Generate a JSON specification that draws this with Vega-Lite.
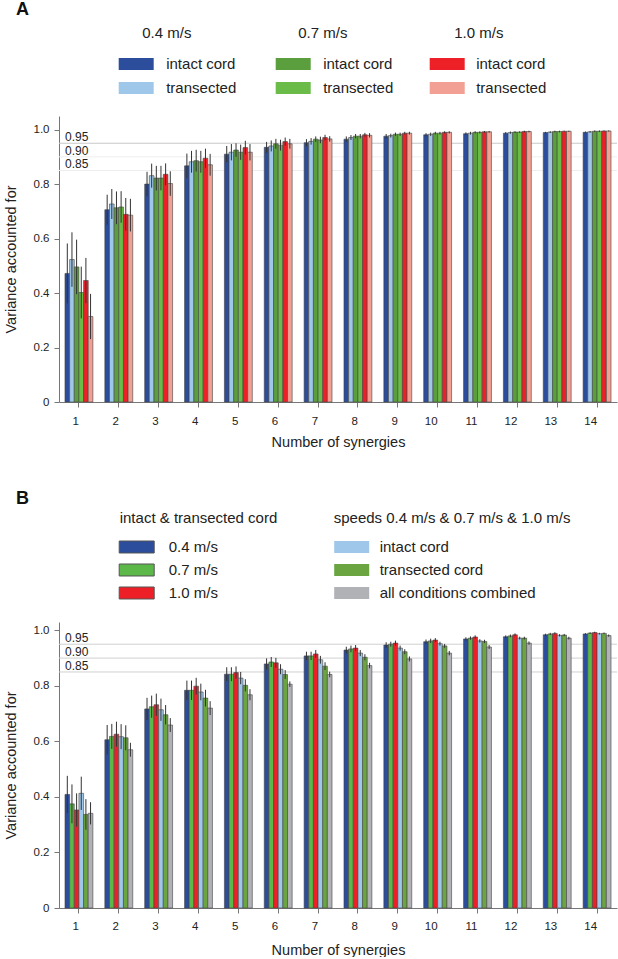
{
  "$schema": "https://vega.github.io/schema/vega-lite/v6.json",
  "background": "white",
  "padding": {"left": 3, "top": 1, "right": 0, "bottom": 0},
  "spacing": 41,
  "resolve": {"scale": {"xOffset": "independent", "x": "independent", "y": "independent"}},
  "config": {
    "view": {"stroke": null},
    "font": "Liberation Sans",
    "axis": {
      "domainColor": "#777", "tickColor": "#777", "labelColor": "#222", "titleColor": "#222",
      "labelFont": "Liberation Sans", "titleFont": "Liberation Sans",
      "labelFontSize": 11.5, "titleFontSize": 14.5, "titleFontWeight": "normal",
      "grid": false, "tickSize": 5
    },
    "legend": {
      "labelFont": "Liberation Sans", "titleFont": "Liberation Sans",
      "labelFontSize": 15, "titleFontSize": 15, "titleFontWeight": "normal",
      "labelColor": "#222", "titleColor": "#222", "titleLimit": 500, "labelLimit": 300,
      "symbolType": "M-2.5,-0.857H2.5V0.857H-2.5Z", "symbolSize": 196,
      "symbolStrokeColor": "#555", "symbolStrokeWidth": 1, "symbolOpacity": 1,
      "direction": "vertical", "orient": "none"
    },
    "title": {"font": "Liberation Sans", "fontSize": 18, "fontWeight": "bold", "color": "#111", "anchor": "start", "frame": "group", "dx": -43}
  },
  "datasets": {
    "refs": [
      {"m": 0.95, "lab": "0.95"},
      {"m": 0.90, "lab": "0.90"},
      {"m": 0.85, "lab": "0.85"}
    ],
    "varA": [
      {"n":1,"cond":"0.4 intact","cord":"intact cord","m":0.472,"lo":0.362,"hi":0.582},
      {"n":1,"cond":"0.4 transected","cord":"transected","m":0.523,"lo":0.423,"hi":0.623},
      {"n":1,"cond":"0.7 intact","cord":"intact cord","m":0.496,"lo":0.396,"hi":0.596},
      {"n":1,"cond":"0.7 transected","cord":"transected","m":0.402,"lo":0.307,"hi":0.497},
      {"n":1,"cond":"1.0 intact","cord":"intact cord","m":0.446,"lo":0.363,"hi":0.529},
      {"n":1,"cond":"1.0 transected","cord":"transected","m":0.314,"lo":0.231,"hi":0.397},
      {"n":2,"cond":"0.4 intact","cord":"intact cord","m":0.706,"lo":0.651,"hi":0.761},
      {"n":2,"cond":"0.4 transected","cord":"transected","m":0.727,"lo":0.672,"hi":0.782},
      {"n":2,"cond":"0.7 intact","cord":"intact cord","m":0.713,"lo":0.653,"hi":0.773},
      {"n":2,"cond":"0.7 transected","cord":"transected","m":0.716,"lo":0.658,"hi":0.774},
      {"n":2,"cond":"1.0 intact","cord":"intact cord","m":0.689,"lo":0.629,"hi":0.749},
      {"n":2,"cond":"1.0 transected","cord":"transected","m":0.686,"lo":0.626,"hi":0.746},
      {"n":3,"cond":"0.4 intact","cord":"intact cord","m":0.800,"lo":0.755,"hi":0.845},
      {"n":3,"cond":"0.4 transected","cord":"transected","m":0.831,"lo":0.787,"hi":0.875},
      {"n":3,"cond":"0.7 intact","cord":"intact cord","m":0.822,"lo":0.777,"hi":0.867},
      {"n":3,"cond":"0.7 transected","cord":"transected","m":0.822,"lo":0.777,"hi":0.867},
      {"n":3,"cond":"1.0 intact","cord":"intact cord","m":0.836,"lo":0.796,"hi":0.876},
      {"n":3,"cond":"1.0 transected","cord":"transected","m":0.802,"lo":0.757,"hi":0.847},
      {"n":4,"cond":"0.4 intact","cord":"intact cord","m":0.867,"lo":0.822,"hi":0.912},
      {"n":4,"cond":"0.4 transected","cord":"transected","m":0.882,"lo":0.842,"hi":0.922},
      {"n":4,"cond":"0.7 intact","cord":"intact cord","m":0.886,"lo":0.846,"hi":0.926},
      {"n":4,"cond":"0.7 transected","cord":"transected","m":0.882,"lo":0.842,"hi":0.922},
      {"n":4,"cond":"1.0 intact","cord":"intact cord","m":0.895,"lo":0.860,"hi":0.930},
      {"n":4,"cond":"1.0 transected","cord":"transected","m":0.871,"lo":0.831,"hi":0.911},
      {"n":5,"cond":"0.4 intact","cord":"intact cord","m":0.910,"lo":0.880,"hi":0.940},
      {"n":5,"cond":"0.4 transected","cord":"transected","m":0.917,"lo":0.887,"hi":0.947},
      {"n":5,"cond":"0.7 intact","cord":"intact cord","m":0.925,"lo":0.900,"hi":0.950},
      {"n":5,"cond":"0.7 transected","cord":"transected","m":0.917,"lo":0.889,"hi":0.945},
      {"n":5,"cond":"1.0 intact","cord":"intact cord","m":0.934,"lo":0.909,"hi":0.959},
      {"n":5,"cond":"1.0 transected","cord":"transected","m":0.917,"lo":0.887,"hi":0.947},
      {"n":6,"cond":"0.4 intact","cord":"intact cord","m":0.935,"lo":0.915,"hi":0.955},
      {"n":6,"cond":"0.4 transected","cord":"transected","m":0.940,"lo":0.920,"hi":0.960},
      {"n":6,"cond":"0.7 intact","cord":"intact cord","m":0.948,"lo":0.930,"hi":0.966},
      {"n":6,"cond":"0.7 transected","cord":"transected","m":0.943,"lo":0.923,"hi":0.963},
      {"n":6,"cond":"1.0 intact","cord":"intact cord","m":0.956,"lo":0.941,"hi":0.971},
      {"n":6,"cond":"1.0 transected","cord":"transected","m":0.948,"lo":0.930,"hi":0.966},
      {"n":7,"cond":"0.4 intact","cord":"intact cord","m":0.952,"lo":0.939,"hi":0.965},
      {"n":7,"cond":"0.4 transected","cord":"transected","m":0.957,"lo":0.945,"hi":0.969},
      {"n":7,"cond":"0.7 intact","cord":"intact cord","m":0.965,"lo":0.955,"hi":0.975},
      {"n":7,"cond":"0.7 transected","cord":"transected","m":0.962,"lo":0.950,"hi":0.974},
      {"n":7,"cond":"1.0 intact","cord":"intact cord","m":0.971,"lo":0.961,"hi":0.981},
      {"n":7,"cond":"1.0 transected","cord":"transected","m":0.966,"lo":0.956,"hi":0.976},
      {"n":8,"cond":"0.4 intact","cord":"intact cord","m":0.965,"lo":0.955,"hi":0.975},
      {"n":8,"cond":"0.4 transected","cord":"transected","m":0.971,"lo":0.962,"hi":0.980},
      {"n":8,"cond":"0.7 intact","cord":"intact cord","m":0.976,"lo":0.968,"hi":0.984},
      {"n":8,"cond":"0.7 transected","cord":"transected","m":0.976,"lo":0.968,"hi":0.984},
      {"n":8,"cond":"1.0 intact","cord":"intact cord","m":0.981,"lo":0.974,"hi":0.988},
      {"n":8,"cond":"1.0 transected","cord":"transected","m":0.979,"lo":0.971,"hi":0.987},
      {"n":9,"cond":"0.4 intact","cord":"intact cord","m":0.976,"lo":0.968,"hi":0.984},
      {"n":9,"cond":"0.4 transected","cord":"transected","m":0.978,"lo":0.971,"hi":0.985},
      {"n":9,"cond":"0.7 intact","cord":"intact cord","m":0.983,"lo":0.977,"hi":0.989},
      {"n":9,"cond":"0.7 transected","cord":"transected","m":0.983,"lo":0.977,"hi":0.989},
      {"n":9,"cond":"1.0 intact","cord":"intact cord","m":0.987,"lo":0.982,"hi":0.992},
      {"n":9,"cond":"1.0 transected","cord":"transected","m":0.987,"lo":0.982,"hi":0.992},
      {"n":10,"cond":"0.4 intact","cord":"intact cord","m":0.981,"lo":0.975,"hi":0.987},
      {"n":10,"cond":"0.4 transected","cord":"transected","m":0.983,"lo":0.977,"hi":0.989},
      {"n":10,"cond":"0.7 intact","cord":"intact cord","m":0.987,"lo":0.982,"hi":0.992},
      {"n":10,"cond":"0.7 transected","cord":"transected","m":0.987,"lo":0.982,"hi":0.992},
      {"n":10,"cond":"1.0 intact","cord":"intact cord","m":0.990,"lo":0.986,"hi":0.994},
      {"n":10,"cond":"1.0 transected","cord":"transected","m":0.990,"lo":0.986,"hi":0.994},
      {"n":11,"cond":"0.4 intact","cord":"intact cord","m":0.985,"lo":0.980,"hi":0.990},
      {"n":11,"cond":"0.4 transected","cord":"transected","m":0.987,"lo":0.982,"hi":0.992},
      {"n":11,"cond":"0.7 intact","cord":"intact cord","m":0.990,"lo":0.986,"hi":0.994},
      {"n":11,"cond":"0.7 transected","cord":"transected","m":0.990,"lo":0.986,"hi":0.994},
      {"n":11,"cond":"1.0 intact","cord":"intact cord","m":0.992,"lo":0.989,"hi":0.995},
      {"n":11,"cond":"1.0 transected","cord":"transected","m":0.992,"lo":0.989,"hi":0.995},
      {"n":12,"cond":"0.4 intact","cord":"intact cord","m":0.987,"lo":0.983,"hi":0.991},
      {"n":12,"cond":"0.4 transected","cord":"transected","m":0.989,"lo":0.985,"hi":0.993},
      {"n":12,"cond":"0.7 intact","cord":"intact cord","m":0.991,"lo":0.988,"hi":0.994},
      {"n":12,"cond":"0.7 transected","cord":"transected","m":0.991,"lo":0.988,"hi":0.994},
      {"n":12,"cond":"1.0 intact","cord":"intact cord","m":0.993,"lo":0.990,"hi":0.996},
      {"n":12,"cond":"1.0 transected","cord":"transected","m":0.993,"lo":0.990,"hi":0.996},
      {"n":13,"cond":"0.4 intact","cord":"intact cord","m":0.989,"lo":0.986,"hi":0.992},
      {"n":13,"cond":"0.4 transected","cord":"transected","m":0.991,"lo":0.988,"hi":0.994},
      {"n":13,"cond":"0.7 intact","cord":"intact cord","m":0.993,"lo":0.990,"hi":0.996},
      {"n":13,"cond":"0.7 transected","cord":"transected","m":0.993,"lo":0.990,"hi":0.996},
      {"n":13,"cond":"1.0 intact","cord":"intact cord","m":0.994,"lo":0.992,"hi":0.996},
      {"n":13,"cond":"1.0 transected","cord":"transected","m":0.994,"lo":0.992,"hi":0.996},
      {"n":14,"cond":"0.4 intact","cord":"intact cord","m":0.990,"lo":0.987,"hi":0.993},
      {"n":14,"cond":"0.4 transected","cord":"transected","m":0.992,"lo":0.989,"hi":0.995},
      {"n":14,"cond":"0.7 intact","cord":"intact cord","m":0.994,"lo":0.991,"hi":0.997},
      {"n":14,"cond":"0.7 transected","cord":"transected","m":0.994,"lo":0.991,"hi":0.997},
      {"n":14,"cond":"1.0 intact","cord":"intact cord","m":0.995,"lo":0.993,"hi":0.997},
      {"n":14,"cond":"1.0 transected","cord":"transected","m":0.995,"lo":0.993,"hi":0.997}
    ],
    "varB": [
      {"n":1,"grp":"speed","cond":"0.4 m/s","m":0.409,"lo":0.342,"hi":0.476},
      {"n":1,"grp":"speed","cond":"0.7 m/s","m":0.375,"lo":0.305,"hi":0.445},
      {"n":1,"grp":"speed","cond":"1.0 m/s","m":0.353,"lo":0.293,"hi":0.413},
      {"n":1,"grp":"cord","cond":"intact cord","m":0.413,"lo":0.353,"hi":0.473},
      {"n":1,"grp":"cord","cond":"transected cord","m":0.337,"lo":0.282,"hi":0.392},
      {"n":1,"grp":"cord","cond":"all conditions combined","m":0.341,"lo":0.301,"hi":0.381},
      {"n":2,"grp":"speed","cond":"0.4 m/s","m":0.606,"lo":0.553,"hi":0.659},
      {"n":2,"grp":"speed","cond":"0.7 m/s","m":0.618,"lo":0.573,"hi":0.663},
      {"n":2,"grp":"speed","cond":"1.0 m/s","m":0.626,"lo":0.581,"hi":0.671},
      {"n":2,"grp":"cord","cond":"intact cord","m":0.617,"lo":0.572,"hi":0.662},
      {"n":2,"grp":"cord","cond":"transected cord","m":0.613,"lo":0.568,"hi":0.658},
      {"n":2,"grp":"cord","cond":"all conditions combined","m":0.570,"lo":0.545,"hi":0.595},
      {"n":3,"grp":"speed","cond":"0.4 m/s","m":0.717,"lo":0.677,"hi":0.757},
      {"n":3,"grp":"speed","cond":"0.7 m/s","m":0.725,"lo":0.685,"hi":0.765},
      {"n":3,"grp":"speed","cond":"1.0 m/s","m":0.732,"lo":0.692,"hi":0.772},
      {"n":3,"grp":"cord","cond":"intact cord","m":0.714,"lo":0.674,"hi":0.754},
      {"n":3,"grp":"cord","cond":"transected cord","m":0.696,"lo":0.661,"hi":0.731},
      {"n":3,"grp":"cord","cond":"all conditions combined","m":0.659,"lo":0.634,"hi":0.684},
      {"n":4,"grp":"speed","cond":"0.4 m/s","m":0.784,"lo":0.749,"hi":0.819},
      {"n":4,"grp":"speed","cond":"0.7 m/s","m":0.784,"lo":0.749,"hi":0.819},
      {"n":4,"grp":"speed","cond":"1.0 m/s","m":0.799,"lo":0.769,"hi":0.829},
      {"n":4,"grp":"cord","cond":"intact cord","m":0.778,"lo":0.748,"hi":0.808},
      {"n":4,"grp":"cord","cond":"transected cord","m":0.756,"lo":0.726,"hi":0.786},
      {"n":4,"grp":"cord","cond":"all conditions combined","m":0.720,"lo":0.695,"hi":0.745},
      {"n":5,"grp":"speed","cond":"0.4 m/s","m":0.842,"lo":0.817,"hi":0.867},
      {"n":5,"grp":"speed","cond":"0.7 m/s","m":0.842,"lo":0.817,"hi":0.867},
      {"n":5,"grp":"speed","cond":"1.0 m/s","m":0.848,"lo":0.826,"hi":0.870},
      {"n":5,"grp":"cord","cond":"intact cord","m":0.828,"lo":0.806,"hi":0.850},
      {"n":5,"grp":"cord","cond":"transected cord","m":0.802,"lo":0.780,"hi":0.824},
      {"n":5,"grp":"cord","cond":"all conditions combined","m":0.768,"lo":0.748,"hi":0.788},
      {"n":6,"grp":"speed","cond":"0.4 m/s","m":0.879,"lo":0.859,"hi":0.899},
      {"n":6,"grp":"speed","cond":"0.7 m/s","m":0.886,"lo":0.868,"hi":0.904},
      {"n":6,"grp":"speed","cond":"1.0 m/s","m":0.883,"lo":0.865,"hi":0.901},
      {"n":6,"grp":"cord","cond":"intact cord","m":0.860,"lo":0.842,"hi":0.878},
      {"n":6,"grp":"cord","cond":"transected cord","m":0.841,"lo":0.825,"hi":0.857},
      {"n":6,"grp":"cord","cond":"all conditions combined","m":0.806,"lo":0.796,"hi":0.816},
      {"n":7,"grp":"speed","cond":"0.4 m/s","m":0.908,"lo":0.893,"hi":0.923},
      {"n":7,"grp":"speed","cond":"0.7 m/s","m":0.908,"lo":0.893,"hi":0.923},
      {"n":7,"grp":"speed","cond":"1.0 m/s","m":0.915,"lo":0.901,"hi":0.929},
      {"n":7,"grp":"cord","cond":"intact cord","m":0.894,"lo":0.880,"hi":0.908},
      {"n":7,"grp":"cord","cond":"transected cord","m":0.871,"lo":0.857,"hi":0.885},
      {"n":7,"grp":"cord","cond":"all conditions combined","m":0.841,"lo":0.831,"hi":0.851},
      {"n":8,"grp":"speed","cond":"0.4 m/s","m":0.929,"lo":0.917,"hi":0.941},
      {"n":8,"grp":"speed","cond":"0.7 m/s","m":0.933,"lo":0.921,"hi":0.945},
      {"n":8,"grp":"speed","cond":"1.0 m/s","m":0.936,"lo":0.925,"hi":0.947},
      {"n":8,"grp":"cord","cond":"intact cord","m":0.918,"lo":0.907,"hi":0.929},
      {"n":8,"grp":"cord","cond":"transected cord","m":0.903,"lo":0.892,"hi":0.914},
      {"n":8,"grp":"cord","cond":"all conditions combined","m":0.873,"lo":0.863,"hi":0.883},
      {"n":9,"grp":"speed","cond":"0.4 m/s","m":0.947,"lo":0.937,"hi":0.957},
      {"n":9,"grp":"speed","cond":"0.7 m/s","m":0.950,"lo":0.941,"hi":0.959},
      {"n":9,"grp":"speed","cond":"1.0 m/s","m":0.954,"lo":0.945,"hi":0.963},
      {"n":9,"grp":"cord","cond":"intact cord","m":0.936,"lo":0.927,"hi":0.945},
      {"n":9,"grp":"cord","cond":"transected cord","m":0.923,"lo":0.914,"hi":0.932},
      {"n":9,"grp":"cord","cond":"all conditions combined","m":0.897,"lo":0.888,"hi":0.906},
      {"n":10,"grp":"speed","cond":"0.4 m/s","m":0.959,"lo":0.951,"hi":0.967},
      {"n":10,"grp":"speed","cond":"0.7 m/s","m":0.962,"lo":0.954,"hi":0.970},
      {"n":10,"grp":"speed","cond":"1.0 m/s","m":0.965,"lo":0.958,"hi":0.972},
      {"n":10,"grp":"cord","cond":"intact cord","m":0.952,"lo":0.945,"hi":0.959},
      {"n":10,"grp":"cord","cond":"transected cord","m":0.944,"lo":0.937,"hi":0.951},
      {"n":10,"grp":"cord","cond":"all conditions combined","m":0.918,"lo":0.910,"hi":0.926},
      {"n":11,"grp":"speed","cond":"0.4 m/s","m":0.969,"lo":0.963,"hi":0.975},
      {"n":11,"grp":"speed","cond":"0.7 m/s","m":0.972,"lo":0.966,"hi":0.978},
      {"n":11,"grp":"speed","cond":"1.0 m/s","m":0.976,"lo":0.970,"hi":0.982},
      {"n":11,"grp":"cord","cond":"intact cord","m":0.962,"lo":0.956,"hi":0.968},
      {"n":11,"grp":"cord","cond":"transected cord","m":0.960,"lo":0.954,"hi":0.966},
      {"n":11,"grp":"cord","cond":"all conditions combined","m":0.940,"lo":0.933,"hi":0.947},
      {"n":12,"grp":"speed","cond":"0.4 m/s","m":0.977,"lo":0.972,"hi":0.982},
      {"n":12,"grp":"speed","cond":"0.7 m/s","m":0.980,"lo":0.975,"hi":0.985},
      {"n":12,"grp":"speed","cond":"1.0 m/s","m":0.984,"lo":0.979,"hi":0.989},
      {"n":12,"grp":"cord","cond":"intact cord","m":0.972,"lo":0.967,"hi":0.977},
      {"n":12,"grp":"cord","cond":"transected cord","m":0.972,"lo":0.967,"hi":0.977},
      {"n":12,"grp":"cord","cond":"all conditions combined","m":0.954,"lo":0.948,"hi":0.960},
      {"n":13,"grp":"speed","cond":"0.4 m/s","m":0.984,"lo":0.980,"hi":0.988},
      {"n":13,"grp":"speed","cond":"0.7 m/s","m":0.987,"lo":0.983,"hi":0.991},
      {"n":13,"grp":"speed","cond":"1.0 m/s","m":0.989,"lo":0.985,"hi":0.993},
      {"n":13,"grp":"cord","cond":"intact cord","m":0.982,"lo":0.978,"hi":0.986},
      {"n":13,"grp":"cord","cond":"transected cord","m":0.983,"lo":0.979,"hi":0.987},
      {"n":13,"grp":"cord","cond":"all conditions combined","m":0.972,"lo":0.967,"hi":0.977},
      {"n":14,"grp":"speed","cond":"0.4 m/s","m":0.987,"lo":0.984,"hi":0.990},
      {"n":14,"grp":"speed","cond":"0.7 m/s","m":0.990,"lo":0.987,"hi":0.993},
      {"n":14,"grp":"speed","cond":"1.0 m/s","m":0.992,"lo":0.989,"hi":0.995},
      {"n":14,"grp":"cord","cond":"intact cord","m":0.988,"lo":0.985,"hi":0.991},
      {"n":14,"grp":"cord","cond":"transected cord","m":0.989,"lo":0.986,"hi":0.992},
      {"n":14,"grp":"cord","cond":"all conditions combined","m":0.981,"lo":0.977,"hi":0.985}
    ]
  },
  "vconcat": [
    {
      "width": 558,
      "height": 286,
      "title": {"text": "A", "offset": 6.5},
      "resolve": {"scale": {"color": "independent"}},
      "layer": [
        {
          "data": {"name": "refs"},
          "transform": [{"filter": "datum.m > 0.92"}],
          "mark": {"type": "rule", "color": "#c8c8c8", "strokeWidth": 1},
          "encoding": {
            "y": {"field": "m", "type": "quantitative", "scale": {"domain": [0, 1.05], "nice": false}, "title": "Variance accounted for"}
          }
        },
        {
          "data": {"name": "refs"},
          "transform": [{"filter": "datum.m < 0.92"}],
          "mark": {"type": "rule", "color": "#eeeeee", "strokeWidth": 1},
          "encoding": {
            "y": {"field": "m", "type": "quantitative", "scale": {"domain": [0, 1.05], "nice": false}, "title": "Variance accounted for"}
          }
        },
        {
          "data": {"name": "refs"},
          "mark": {"type": "text", "align": "left", "baseline": "alphabetic", "dy": -2, "fontSize": 12, "font": "Liberation Sans", "color": "#222"},
          "encoding": {
            "x": {"datum": 1, "type": "ordinal", "bandPosition": 0, "title": "Number of synergies"},
            "y": {"field": "m", "type": "quantitative", "scale": {"domain": [0, 1.05], "nice": false}, "title": "Variance accounted for"},
            "text": {"field": "lab"}
          }
        },
        {
          "data": {"name": "varA"},
          "transform": [{"filter": "indexof(datum.cond, '0.4') === 0"}],
          "mark": {"type": "bar", "stroke": "#444", "strokeWidth": 0.6},
          "encoding": {
            "x": {"field": "n", "type": "ordinal", "scale": {"domain": [1,2,3,4,5,6,7,8,9,10,11,12,13,14], "paddingInner": 0.3, "paddingOuter": 0.15}, "axis": {"labelAngle": 0, "labelPadding": 14, "titlePadding": 9}, "title": "Number of synergies"},
            "xOffset": {"field": "cond", "type": "nominal", "scale": {"domain": ["0.4 intact", "0.4 transected", "0.7 intact", "0.7 transected", "1.0 intact", "1.0 transected"], "paddingInner": 0, "paddingOuter": 0}},
            "y": {"field": "m", "type": "quantitative", "scale": {"domain": [0, 1.05], "nice": false}, "axis": {"values": [0, 0.2, 0.4, 0.6, 0.8, 1.0], "labelExpr": "datum.value == 0 ? '0' : format(datum.value, '.1f')", "labelPadding": 5, "titlePadding": 15}, "title": "Variance accounted for"},
            "color": {
              "field": "cord", "type": "nominal",
              "scale": {"domain": ["intact cord", "transected"], "range": ["#2b4d9c", "#9fc7ea"]},
              "legend": {
                "title": "0.4 m/s", "legendX": 69.7, "legendY": -90.5, "labelOffset": 22.5, "rowPadding": 7, "titlePadding": 16,
                "encode": {
                  "title": {"update": {"dx": {"value": 13.5}}},
                  "symbols": {"update": {"fill": {"signal": "datum.value === 'intact cord' ? '#2b3990' : '#8fd9f8'"}}}
                }
              }
            }
          }
        },
        {
          "data": {"name": "varA"},
          "transform": [{"filter": "indexof(datum.cond, '0.7') === 0"}],
          "mark": {"type": "bar", "stroke": "#444", "strokeWidth": 0.6},
          "encoding": {
            "x": {"field": "n", "type": "ordinal", "title": "Number of synergies"},
            "xOffset": {"field": "cond", "type": "nominal", "scale": {"domain": ["0.4 intact", "0.4 transected", "0.7 intact", "0.7 transected", "1.0 intact", "1.0 transected"], "paddingInner": 0, "paddingOuter": 0}},
            "y": {"field": "m", "type": "quantitative", "scale": {"domain": [0, 1.05], "nice": false}, "title": "Variance accounted for"},
            "color": {
              "field": "cord", "type": "nominal",
              "scale": {"domain": ["intact cord", "transected"], "range": ["#5a9e3d", "#6abb47"]},
              "legend": {
                "title": "0.7 m/s", "legendX": 226.7, "legendY": -90.5, "labelOffset": 22.5, "rowPadding": 7, "titlePadding": 16,
                "encode": {
                  "title": {"update": {"dx": {"value": 12.5}}},
                  "symbols": {"update": {"fill": {"signal": "datum.value === 'intact cord' ? '#3a8271' : '#a6ce39'"}}}
                }
              }
            }
          }
        },
        {
          "data": {"name": "varA"},
          "transform": [{"filter": "indexof(datum.cond, '1.0') === 0"}],
          "mark": {"type": "bar", "stroke": "#444", "strokeWidth": 0.6},
          "encoding": {
            "x": {"field": "n", "type": "ordinal", "title": "Number of synergies"},
            "xOffset": {"field": "cond", "type": "nominal", "scale": {"domain": ["0.4 intact", "0.4 transected", "0.7 intact", "0.7 transected", "1.0 intact", "1.0 transected"], "paddingInner": 0, "paddingOuter": 0}},
            "y": {"field": "m", "type": "quantitative", "scale": {"domain": [0, 1.05], "nice": false}, "title": "Variance accounted for"},
            "color": {
              "field": "cord", "type": "nominal",
              "scale": {"domain": ["intact cord", "transected"], "range": ["#ee2027", "#f2a093"]},
              "legend": {
                "title": "1.0 m/s", "legendX": 380.7, "legendY": -90.5, "labelOffset": 21.5, "rowPadding": 7, "titlePadding": 16,
                "encode": {
                  "title": {"update": {"dx": {"value": 14.5}}},
                  "symbols": {"update": {"fill": {"signal": "datum.value === 'intact cord' ? '#ed1c24' : '#f6a9a8'"}}}
                }
              }
            }
          }
        },
        {
          "data": {"name": "varA"},
          "mark": {"type": "rule", "color": "#333", "strokeWidth": 1},
          "encoding": {
            "x": {"field": "n", "type": "ordinal", "title": "Number of synergies"},
            "xOffset": {"field": "cond", "type": "nominal", "scale": {"domain": ["0.4 intact", "0.4 transected", "0.7 intact", "0.7 transected", "1.0 intact", "1.0 transected"], "paddingInner": 0, "paddingOuter": 0}},
            "y": {"field": "lo", "type": "quantitative", "scale": {"domain": [0, 1.05], "nice": false}, "title": "Variance accounted for"},
            "y2": {"field": "hi"}
          }
        }
      ]
    },
    {
      "width": 558,
      "height": 286,
      "title": {"text": "B", "offset": 3},
      "resolve": {"scale": {"color": "independent"}},
      "layer": [
        {
          "data": {"name": "refs"},
          "mark": {"type": "rule", "color": "#d0d0d0", "strokeWidth": 1},
          "encoding": {
            "y": {"field": "m", "type": "quantitative", "scale": {"domain": [0, 1.03], "nice": false}, "title": "Variance accounted for"}
          }
        },
        {
          "data": {"name": "refs"},
          "mark": {"type": "text", "align": "left", "baseline": "alphabetic", "dy": -2, "fontSize": 12, "font": "Liberation Sans", "color": "#222"},
          "encoding": {
            "x": {"datum": 1, "type": "ordinal", "bandPosition": 0, "title": "Number of synergies"},
            "y": {"field": "m", "type": "quantitative", "scale": {"domain": [0, 1.03], "nice": false}, "title": "Variance accounted for"},
            "text": {"field": "lab"}
          }
        },
        {
          "data": {"name": "varB"},
          "transform": [{"filter": "datum.grp === 'speed'"}],
          "mark": {"type": "bar", "stroke": "#444", "strokeWidth": 0.6},
          "encoding": {
            "x": {"field": "n", "type": "ordinal", "scale": {"domain": [1,2,3,4,5,6,7,8,9,10,11,12,13,14], "paddingInner": 0.3, "paddingOuter": 0.15}, "axis": {"labelAngle": 0, "labelPadding": 13, "titlePadding": 12}, "title": "Number of synergies"},
            "xOffset": {"field": "cond", "type": "nominal", "scale": {"domain": ["0.4 m/s", "0.7 m/s", "1.0 m/s", "intact cord", "transected cord", "all conditions combined"], "paddingInner": 0, "paddingOuter": 0}},
            "y": {"field": "m", "type": "quantitative", "scale": {"domain": [0, 1.03], "nice": false}, "axis": {"values": [0, 0.2, 0.4, 0.6, 0.8, 1.0], "labelExpr": "datum.value == 0 ? '0' : format(datum.value, '.1f')", "labelPadding": 5, "titlePadding": 15}, "title": "Variance accounted for"},
            "color": {
              "field": "cond", "type": "nominal",
              "scale": {"domain": ["0.4 m/s", "0.7 m/s", "1.0 m/s"], "range": ["#2b4d9c", "#5cb848", "#ee2027"]},
              "legend": {
                "title": "intact & transected cord", "legendX": 61.2, "legendY": -110.9, "labelOffset": 24.5, "rowPadding": 6, "titlePadding": 13.4,
                "encode": {
                  "title": {"update": {"dx": {"value": -9.5}}}
                }
              }
            }
          }
        },
        {
          "data": {"name": "varB"},
          "transform": [{"filter": "datum.grp === 'cord'"}],
          "mark": {"type": "bar", "stroke": "#444", "strokeWidth": 0.6},
          "encoding": {
            "x": {"field": "n", "type": "ordinal", "title": "Number of synergies"},
            "xOffset": {"field": "cond", "type": "nominal", "scale": {"domain": ["0.4 m/s", "0.7 m/s", "1.0 m/s", "intact cord", "transected cord", "all conditions combined"], "paddingInner": 0, "paddingOuter": 0}},
            "y": {"field": "m", "type": "quantitative", "scale": {"domain": [0, 1.03], "nice": false}, "title": "Variance accounted for"},
            "color": {
              "field": "cond", "type": "nominal",
              "scale": {"domain": ["intact cord", "transected cord", "all conditions combined"], "range": ["#9fc7ea", "#6aa541", "#b1b2b6"]},
              "legend": {
                "title": "speeds 0.4 m/s & 0.7 m/s & 1.0 m/s", "legendX": 275.2, "legendY": -110.9, "labelOffset": 20.5, "rowPadding": 6, "titlePadding": 13.4,
                "encode": {
                  "title": {"update": {"dx": {"value": -10.5}}},
                  "symbols": {"update": {"fill": {"signal": "datum.value === 'intact cord' ? '#8fd9f8' : datum.value === 'transected cord' ? '#a6ce39' : '#bcbec0'"}}}
                }
              }
            }
          }
        },
        {
          "data": {"name": "varB"},
          "mark": {"type": "rule", "color": "#333", "strokeWidth": 1},
          "encoding": {
            "x": {"field": "n", "type": "ordinal", "title": "Number of synergies"},
            "xOffset": {"field": "cond", "type": "nominal", "scale": {"domain": ["0.4 m/s", "0.7 m/s", "1.0 m/s", "intact cord", "transected cord", "all conditions combined"], "paddingInner": 0, "paddingOuter": 0}},
            "y": {"field": "lo", "type": "quantitative", "scale": {"domain": [0, 1.03], "nice": false}, "title": "Variance accounted for"},
            "y2": {"field": "hi"}
          }
        }
      ]
    }
  ]
}
